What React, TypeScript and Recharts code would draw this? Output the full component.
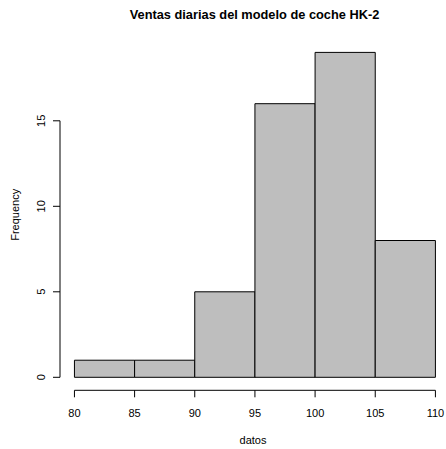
import React from 'react';
import { ComposedChart, XAxis, YAxis, ReferenceArea, ReferenceLine } from 'recharts';

const binStarts = [80, 85, 90, 95, 100, 105];
const binEnds = [85, 90, 95, 100, 105, 110];
const counts = [1, 1, 5, 16, 19, 8];
const xTicks = [80, 85, 90, 95, 100, 105, 110];
const yTicks = [0, 5, 10, 15];

const title = 'Ventas diarias del modelo de coche HK-2';
const xLabel = 'datos';
const yLabel = 'Frequency';

const FONT = '"Liberation Sans", Arial, Helvetica, sans-serif';

const data = binStarts.map((s, i) => ({ start: s, end: binEnds[i], count: counts[i] }));

const YTick = (props: any) => {
  const { x, y, payload } = props;
  return (
    <text
      x={x - 8}
      y={y}
      transform={`rotate(-90, ${x - 8}, ${y})`}
      textAnchor="middle"
      fontSize={11}
      fontFamily={FONT}
      fill="#000"
    >
      {payload.value}
    </text>
  );
};

const XTick = (props: any) => {
  const { x, y, payload } = props;
  return (
    <text x={x} y={y} dy={20} textAnchor="middle" fontSize={11} fontFamily={FONT} fill="#000">
      {payload.value}
    </text>
  );
};

export default function App() {
  return (
    <div style={{ position: 'absolute', left: 0, top: 0, width: 446, height: 449, background: '#fff' }}>
      <div
        style={{
          position: 'absolute',
          left: 0,
          top: 6,
          width: 509,
          textAlign: 'center',
          fontFamily: FONT,
          fontWeight: 'bold',
          fontSize: 12.8,
          color: '#000',
          lineHeight: '17px',
        }}
      >
        {title}
      </div>
      <ComposedChart
        width={446}
        height={449}
        data={data}
        margin={{ top: 39.4, right: 0, bottom: 0, left: 0 }}
        style={{ fontFamily: FONT }}
      >
        <XAxis
          type="number"
          dataKey="start"
          domain={[78.8, 110.88]}
          ticks={xTicks}
          interval={0}
          height={58.7}
          axisLine={false}
          tickLine={{ stroke: '#000' }}
          tickSize={7}
          tickMargin={0}
          tick={<XTick />}
          allowDataOverflow
          label={{ value: xLabel, position: 'insideBottom', offset: 5, fontSize: 11, fill: '#000', fontFamily: FONT }}
        />
        <YAxis
          type="number"
          domain={[-0.76, 19.76]}
          ticks={yTicks}
          interval={0}
          width={60}
          axisLine={false}
          tickLine={{ stroke: '#000' }}
          tickSize={7}
          tickMargin={0}
          tick={<YTick />}
          allowDataOverflow
          label={(p: any) => {
            const vb = p.viewBox || {};
            const cx = 19.5;
            const cy = (vb.y ?? 39.4) + (vb.height ?? 351) / 2;
            return (
              <text
                x={cx}
                y={cy}
                transform={`rotate(-90, ${cx}, ${cy})`}
                textAnchor="middle"
                fontSize={11}
                fontFamily={FONT}
                fill="#000"
              >
                {yLabel}
              </text>
            );
          }}
        />
        {data.map((d, i) => (
          <ReferenceArea
            key={i}
            x1={d.start}
            x2={d.end}
            y1={0}
            y2={d.count}
            fill="#bebebe"
            fillOpacity={1}
            stroke="#000"
            strokeWidth={1}
            ifOverflow="visible"
          />
        ))}
        <ReferenceLine
          segment={[{ x: xTicks[0], y: -0.76 }, { x: xTicks[xTicks.length - 1], y: -0.76 }]}
          stroke="#000"
          ifOverflow="visible"
        />
        <ReferenceLine
          segment={[{ x: 78.8, y: yTicks[0] }, { x: 78.8, y: yTicks[yTicks.length - 1] }]}
          stroke="#000"
          ifOverflow="visible"
        />
      </ComposedChart>
    </div>
  );
}
